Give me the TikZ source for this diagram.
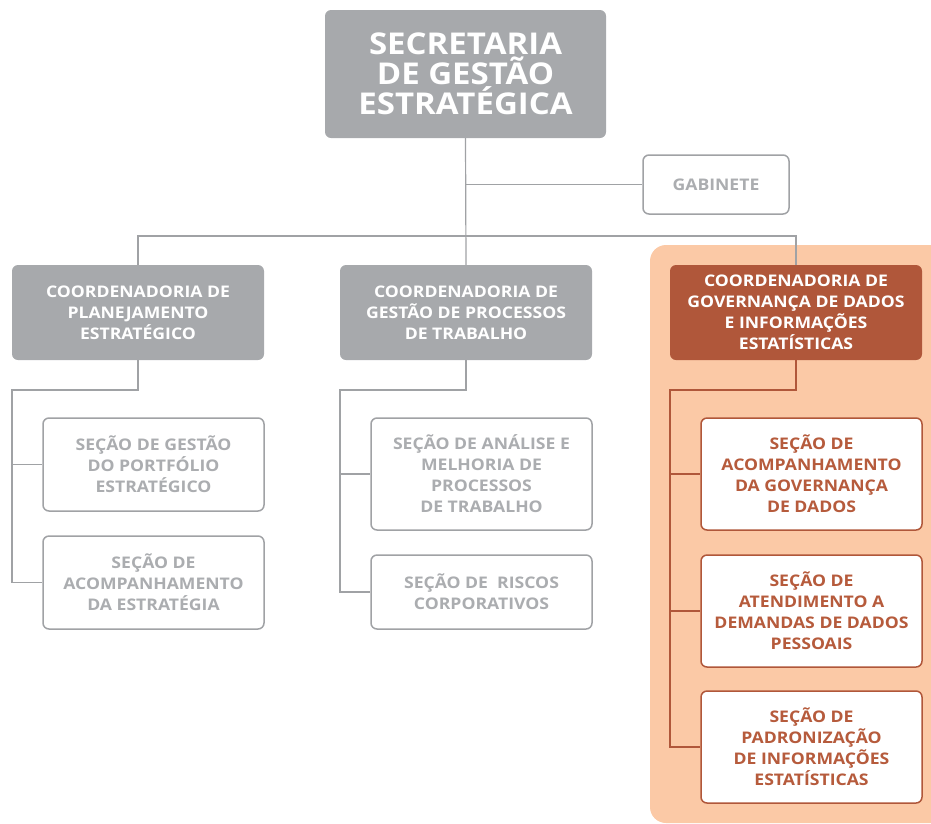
\documentclass[tikz,border=0pt]{standalone}
\usepackage{fontspec}
\setmainfont{Open Sans}[FakeStretch=1.1]
\definecolor{boxgray}{HTML}{A7A9AC}
\definecolor{textgray}{HTML}{ABADB0}
\definecolor{linegray}{HTML}{A0A2A5}
\definecolor{peach}{HTML}{FBC9A6}
\definecolor{rust}{HTML}{B0573A}
\definecolor{rusttext}{HTML}{B65B3C}
\begin{document}
\begin{tikzpicture}[x=1pt,y=-1pt,
  graybox/.style={fill=boxgray,rounded corners=6pt,text=white,font=\bfseries\fontsize{16}{21}\selectfont,align=center,inner sep=0pt},
  secbox/.style={draw=linegray,line width=1.5pt,rounded corners=6pt,fill=white,text=textgray,font=\bfseries\fontsize{16}{21}\selectfont,align=center,inner sep=0pt,minimum width=221pt},
  rustbox/.style={secbox,draw=rust,text=rusttext},
  link/.style={draw=linegray,line width=1.2pt},
  rustlink/.style={draw=rust,line width=1.2pt}]
\useasboundingbox (0,0) rectangle (931,823);
\clip (0,0) rectangle (931,823);
\fill[peach,rounded corners=16pt] (650,245) rectangle (960,823);

\node[graybox,minimum width=281pt,minimum height=128pt,font=\bfseries\fontsize{30}{30}\selectfont] (sec) at (465.5,74) {SECRETARIA\\DE GESTÃO\\ESTRATÉGICA};
\node[secbox,minimum width=146pt,minimum height=59pt] (gab) at (716,184.5) {GABINETE};
\node[graybox,minimum width=252pt,minimum height=95pt] (cpe) at (138,312.5) {COORDENADORIA DE\\PLANEJAMENTO\\ESTRATÉGICO};
\node[graybox,minimum width=252pt,minimum height=95pt] (cgp) at (466,312.5) {COORDENADORIA DE\\GESTÃO DE PROCESSOS\\DE TRABALHO};
\node[graybox,fill=rust,minimum width=252pt,minimum height=95pt] (cgd) at (796,312.5) {COORDENADORIA DE\\GOVERNANÇA DE DADOS\\E INFORMAÇÕES\\ESTATÍSTICAS};

\node[secbox,minimum height=93pt] (s1a) at (153.5,464.5) {SEÇÃO DE GESTÃO\\DO PORTFÓLIO\\ESTRATÉGICO};
\node[secbox,minimum height=93pt] (s1b) at (153.5,582.5) {SEÇÃO DE\\ACOMPANHAMENTO\\DA ESTRATÉGIA};
\node[secbox,minimum height=112pt] (s2a) at (481.5,474) {SEÇÃO DE ANÁLISE E\\MELHORIA DE\\PROCESSOS\\DE TRABALHO};
\node[secbox,minimum height=74pt] (s2b) at (481.5,592) {SEÇÃO DE\ \ RISCOS\\CORPORATIVOS};
\node[rustbox,minimum height=112pt] (s3a) at (811.5,474) {SEÇÃO DE\\ACOMPANHAMENTO\\DA GOVERNANÇA\\DE DADOS};
\node[rustbox,minimum height=112pt] (s3b) at (811.5,611) {SEÇÃO DE\\ATENDIMENTO A\\DEMANDAS DE DADOS\\PESSOAIS};
\node[rustbox,minimum height=112pt] (s3c) at (811.5,747) {SEÇÃO DE\\PADRONIZAÇÃO\\DE INFORMAÇÕES\\ESTATÍSTICAS};

\coordinate (bus) at (465.5,236);
\coordinate (l1) at (12,390);
\coordinate (l2) at (340,390);
\coordinate (l3) at (670,390);

\path[link] (sec.south) -- (cgp.north);
\path[link] (sec.south |- gab.west) -- (gab.west);
\path[link] (cpe.north) |- (cgd.north |- bus) -- (cgd.north);

\path[link] (cpe.south) |- (l1) |- (s1b.west);
\path[link] (l1 |- s1a.west) -- (s1a.west);
\path[link] (cgp.south) |- (l2) |- (s2b.west);
\path[link] (l2 |- s2a.west) -- (s2a.west);
\path[rustlink] (cgd.south) |- (l3) |- (s3c.west);
\path[rustlink] (l3 |- s3a.west) -- (s3a.west);
\path[rustlink] (l3 |- s3b.west) -- (s3b.west);
\end{tikzpicture}
\end{document}
